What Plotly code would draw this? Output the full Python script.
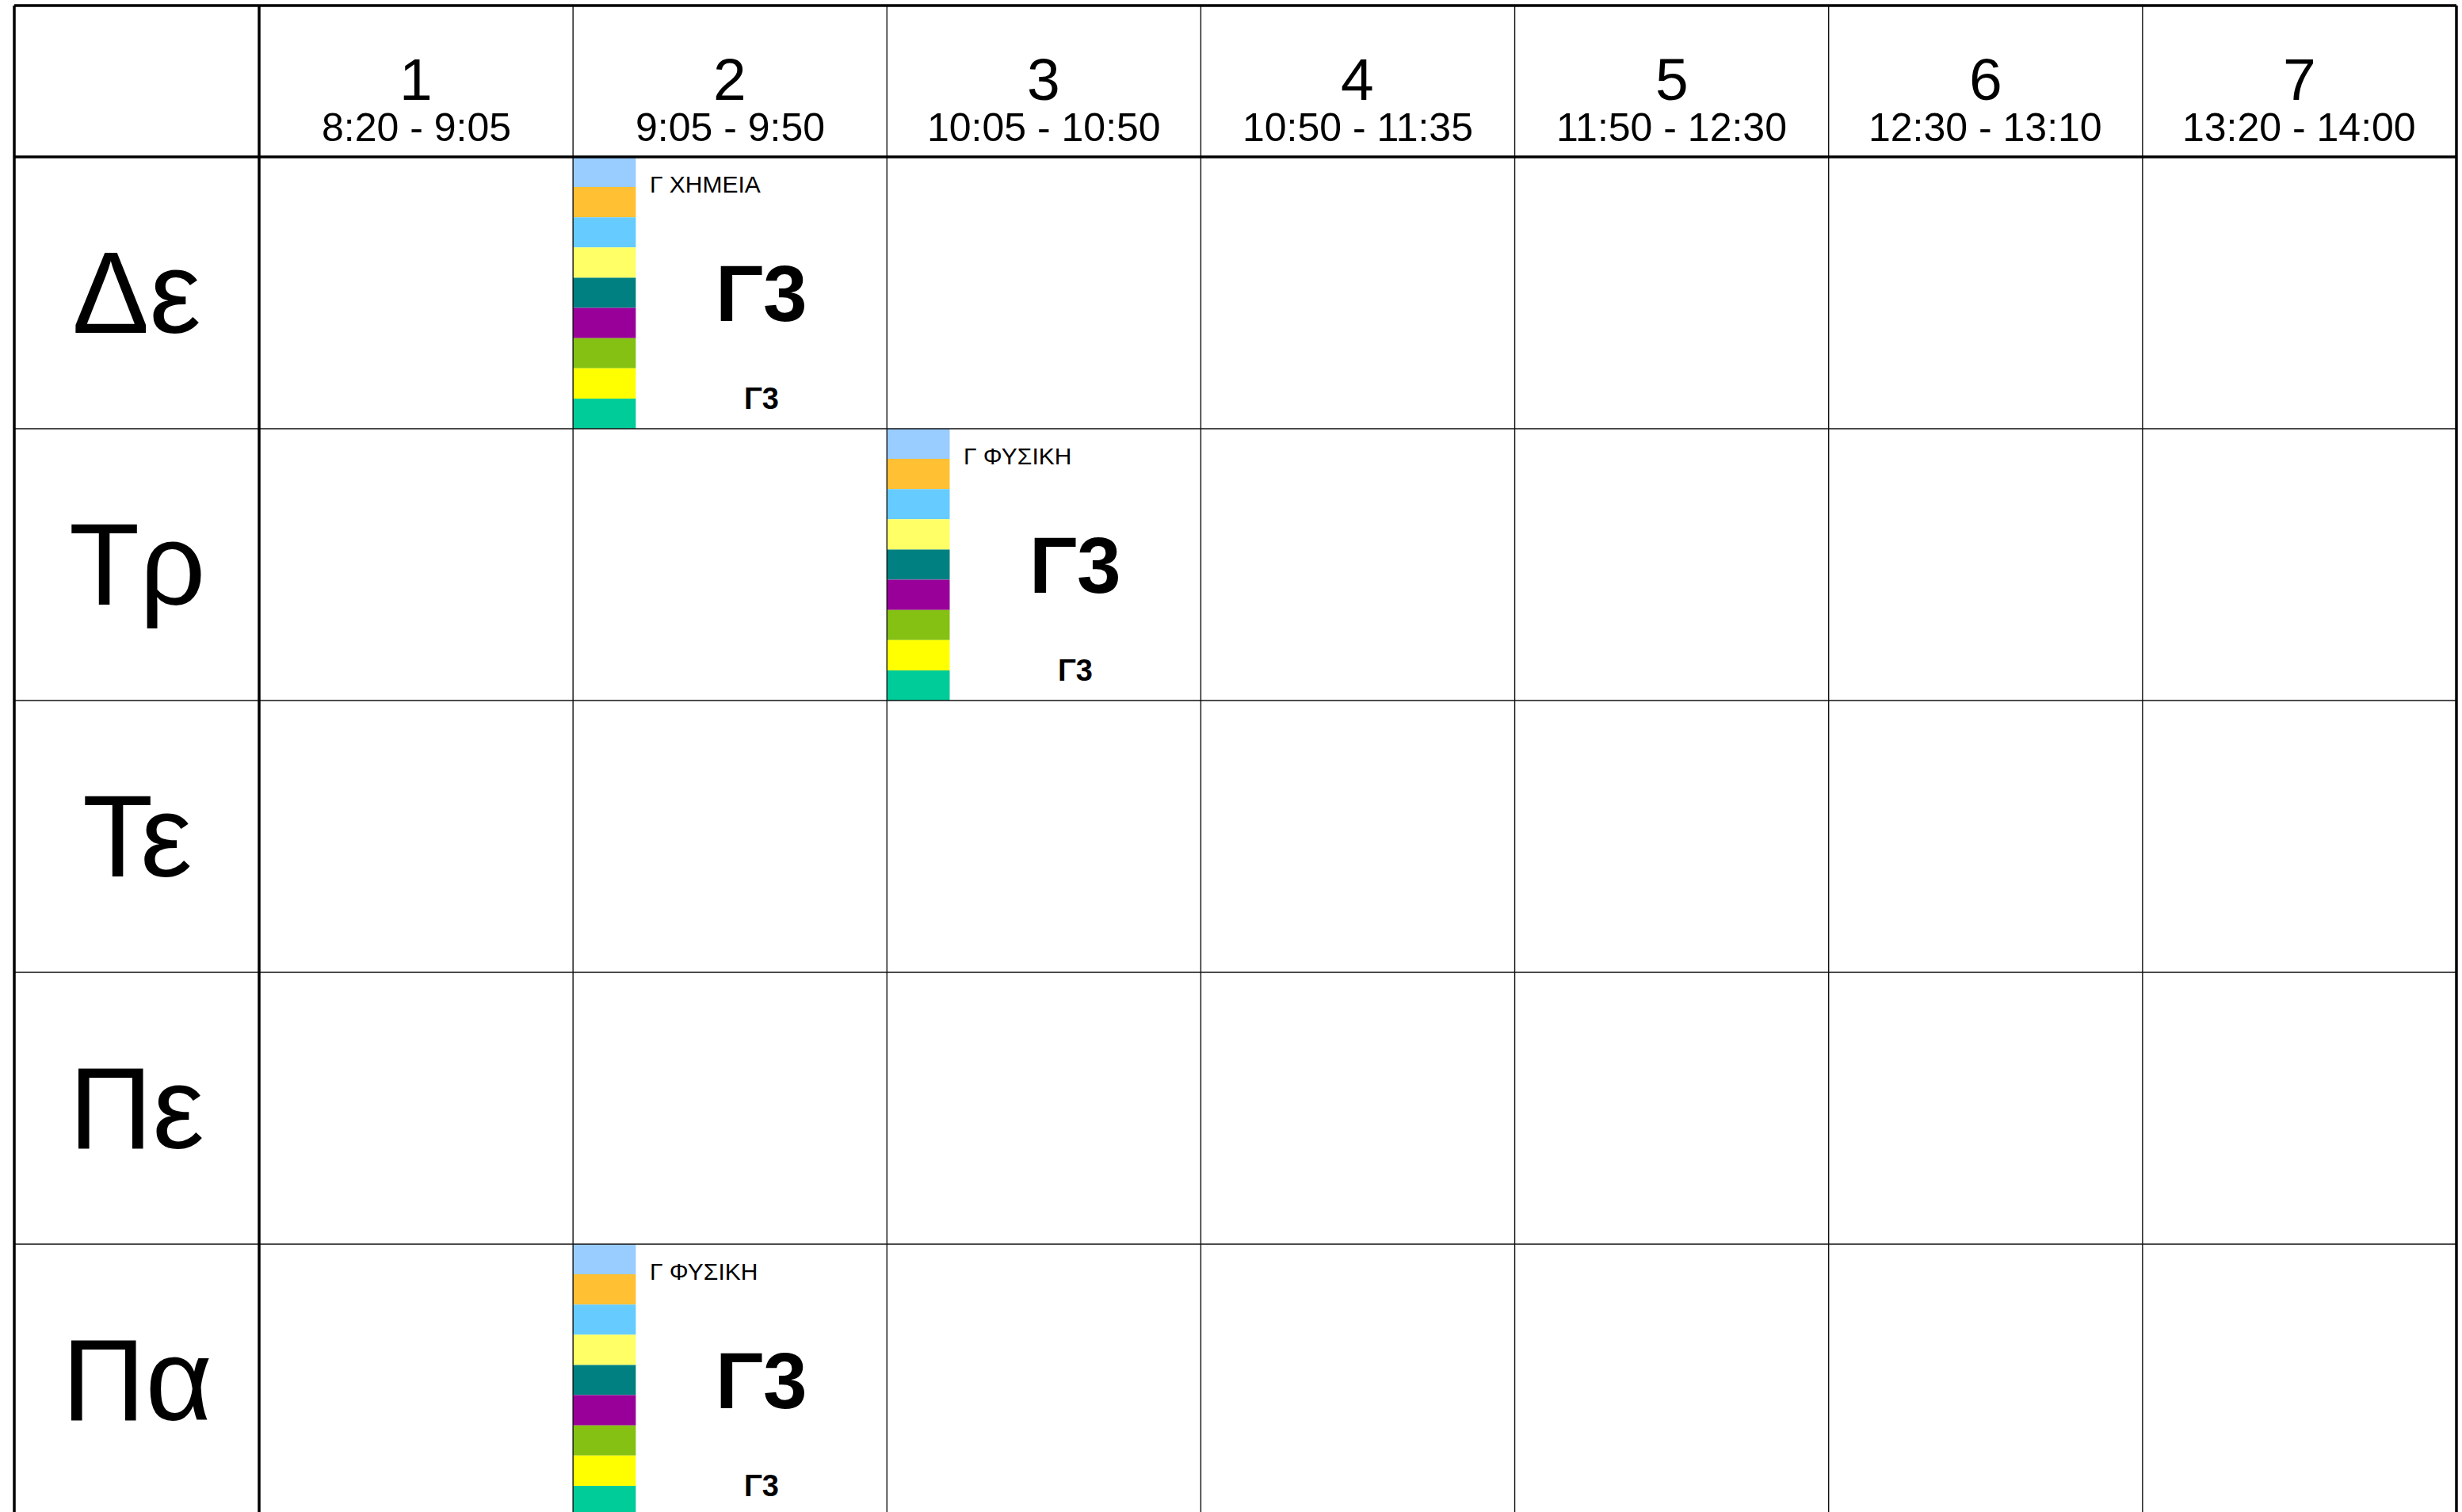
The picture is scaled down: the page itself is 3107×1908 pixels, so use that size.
import plotly.graph_objects as go

# ---------------- data ----------------
days = ["Δε", "Τρ", "Τε", "Πε", "Πα"]
periods = ["1", "2", "3", "4", "5", "6", "7"]
period_times = ["8:20 - 9:05", "9:05 - 9:50", "10:05 - 10:50", "10:50 - 11:35",
                "11:50 - 12:30", "12:30 - 13:10", "13:20 - 14:00"]

lesson_day = [0, 1, 4]
lesson_period = [1, 2, 1]
lesson_subject = ["Γ ΧΗΜΕΙΑ", "Γ ΦΥΣΙΚΗ", "Γ ΦΥΣΙΚΗ"]
lesson_class = ["Γ3", "Γ3", "Γ3"]
lesson_room = ["Γ3", "Γ3", "Γ3"]

strip_colors = ["#99CCFF", "#FFC033", "#66CCFF", "#FFFF66", "#008080",
                "#990099", "#84C113", "#FFFF00", "#00CC99"]

# ---------------- geometry (axis units: 1 = one period column / one day row) ----------------
W, H = 3107, 1908
COL_PX = 396.14
ROW_PX = 343.0
X0_PX = 327.0   # pixel of x=0
Y0_PX = 198.0   # pixel of y=0
DAY_COL = -0.78     # left border of day column
HEAD_TOP = -0.557   # top border of header
STRIP_W = 0.2

x_range = [-X0_PX / COL_PX, (W - X0_PX) / COL_PX]
y_range = [(H - Y0_PX) / ROW_PX, -Y0_PX / ROW_PX]

FONT = "Liberation Sans, Arial, sans-serif"
n_p = len(periods)
n_d = len(days)

fig = go.Figure()
shapes = []
annotations = []

# lesson colour strips
for d, p in zip(lesson_day, lesson_period):
    seg = 1.0 / len(strip_colors)
    for k, c in enumerate(strip_colors):
        shapes.append(dict(type="rect", xref="x", yref="y",
                           x0=p, x1=p + STRIP_W, y0=d + k * seg, y1=d + (k + 1) * seg,
                           fillcolor=c, line=dict(width=0), layer="above"))

# grid lines
thin = dict(color="#111111", width=1.4)
thick = dict(color="#000000", width=3.5)
y_bottom = n_d + 0.05
for i in range(1, n_p):
    shapes.append(dict(type="line", xref="x", yref="y", x0=i, x1=i,
                       y0=HEAD_TOP, y1=y_bottom, line=thin, layer="above"))
for j in range(1, n_d + 1):
    shapes.append(dict(type="line", xref="x", yref="y", x0=DAY_COL, x1=n_p,
                       y0=j, y1=j, line=thin, layer="above"))
for xv in [DAY_COL, 0, n_p]:
    shapes.append(dict(type="line", xref="x", yref="y", x0=xv, x1=xv,
                       y0=HEAD_TOP, y1=y_bottom, line=thick, layer="above"))
for yv in [HEAD_TOP, 0]:
    shapes.append(dict(type="line", xref="x", yref="y", x0=DAY_COL, x1=n_p,
                       y0=yv, y1=yv, line=thick, layer="above"))

# header texts
for i, (p, t) in enumerate(zip(periods, period_times)):
    annotations.append(dict(x=i + 0.5, y=-0.285, xref="x", yref="y", text=p,
                            showarrow=False, xanchor="center", yanchor="middle",
                            font=dict(family=FONT, size=75, color="black")))
    annotations.append(dict(x=i + 0.5, y=-0.108, xref="x", yref="y", text=t,
                            showarrow=False, xanchor="center", yanchor="middle",
                            font=dict(family=FONT, size=50, color="black")))

# day labels
for j, d in enumerate(days):
    annotations.append(dict(x=DAY_COL / 2, y=j + 0.5, xref="x", yref="y", text=d,
                            showarrow=False, xanchor="center", yanchor="middle",
                            font=dict(family=FONT, size=146, color="black")))

# lesson texts
for d, p, s, c, r in zip(lesson_day, lesson_period, lesson_subject, lesson_class, lesson_room):
    annotations.append(dict(x=p + 0.24, y=d + 0.10, xref="x", yref="y", text=s,
                            showarrow=False, xanchor="left", yanchor="middle",
                            font=dict(family=FONT, size=30, color="black")))
    annotations.append(dict(x=p + STRIP_W + (1 - STRIP_W) / 2, y=d + 0.5, xref="x", yref="y",
                            text="<b>%s</b>" % c, showarrow=False,
                            xanchor="center", yanchor="middle",
                            font=dict(family=FONT, size=100, color="black")))
    annotations.append(dict(x=p + STRIP_W + (1 - STRIP_W) / 2, y=d + 0.89, xref="x", yref="y",
                            text="<b>%s</b>" % r, showarrow=False,
                            xanchor="center", yanchor="middle",
                            font=dict(family=FONT, size=38, color="black")))

fig.update_layout(
    width=W, height=H,
    margin=dict(l=0, r=0, t=0, b=0, pad=0),
    paper_bgcolor="white", plot_bgcolor="white",
    xaxis=dict(range=x_range, visible=False, fixedrange=True),
    yaxis=dict(range=y_range, visible=False, fixedrange=True),
    shapes=shapes, annotations=annotations, showlegend=False,
)

fig.write_html("out.html", config={"displayModeBar": False},
               post_script="document.body.style.margin='0';document.body.style.overflow='hidden';")
